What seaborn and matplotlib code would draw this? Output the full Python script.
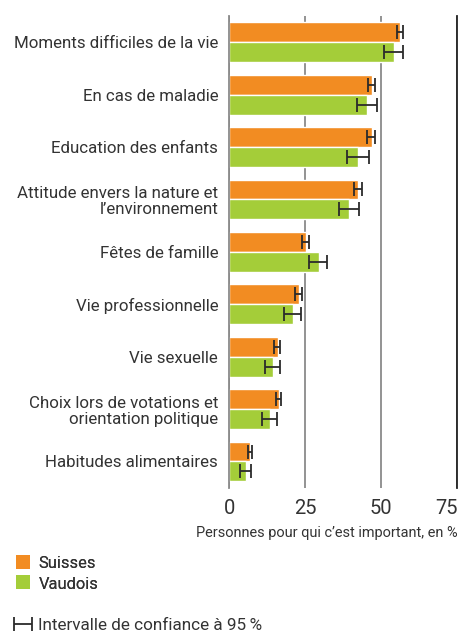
import numpy as np
import pandas as pd
import matplotlib
matplotlib.use("Agg")
import matplotlib.pyplot as plt
from matplotlib.patches import Patch
import seaborn as sns

categories = [
    "Moments difficiles de la vie",
    "En cas de maladie",
    "Education des enfants",
    "Attitude envers la nature et\nl\u2019environnement",
    "F\u00eates de famille",
    "Vie professionnelle",
    "Vie sexuelle",
    "Choix lors de votations et\norientation politique",
    "Habitudes alimentaires",
]
series = ["Suisses", "Vaudois"]

suisses = [56.0, 46.8, 46.8, 42.2, 25.1, 22.9, 15.9, 16.3, 6.7]
suisses_low = [55.1, 45.5, 45.4, 41.1, 24.0, 21.7, 14.7, 15.4, 6.3]
suisses_high = [57.3, 47.9, 47.9, 43.8, 26.2, 23.9, 16.7, 17.1, 7.6]

vaudois = [54.1, 45.2, 42.2, 39.4, 29.5, 20.8, 14.3, 13.3, 5.4]
vaudois_low = [50.9, 42.0, 38.8, 36.2, 26.2, 18.1, 11.8, 10.9, 3.6]
vaudois_high = [57.0, 48.5, 45.9, 42.6, 32.2, 23.6, 16.7, 15.6, 7.1]

x_ticks = [0, 25, 50, 75]
x_label = "Personnes pour qui c\u2019est important, en %"
ci_label = "Intervalle de confiance \u00e0 95\u2009%"

colors = {"Suisses": "#F28C22", "Vaudois": "#A4CD39"}
text_color = "#333333"

sns.set_style("white")
plt.rcParams["font.family"] = ["Roboto", "DejaVu Sans"]
plt.rcParams["text.color"] = text_color
plt.rcParams["axes.labelcolor"] = text_color
plt.rcParams["xtick.color"] = text_color
plt.rcParams["ytick.color"] = text_color

df = pd.DataFrame({
    "categorie": categories * 2,
    "groupe": ["Suisses"] * len(categories) + ["Vaudois"] * len(categories),
    "valeur": suisses + vaudois,
})

fig = plt.figure(figsize=(4.59, 6.37), dpi=100)
ax = fig.add_axes([229.3 / 459, 1 - 487.7 / 637, (457.3 - 229.3) / 459, (487.7 - 16) / 637])

bar_width = 0.76
sns.barplot(data=df, y="categorie", x="valeur", hue="groupe", order=categories,
            hue_order=series, palette=colors, width=bar_width, saturation=1,
            orient="h", ax=ax, legend=False, zorder=2)

# confidence intervals
pos = np.arange(len(categories))
offset = bar_width / 4
ci_handle = None
for vals, lo, hi, off in [(suisses, suisses_low, suisses_high, -offset),
                          (vaudois, vaudois_low, vaudois_high, offset)]:
    vals = np.array(vals)
    xerr = [vals - np.array(lo), np.array(hi) - vals]
    ci_handle = ax.errorbar(vals, pos + off, xerr=xerr, fmt="none", ecolor="#2b2b2b",
                            elinewidth=1.3, capsize=4.7, capthick=1.3, zorder=3)

ax.set_xlim(0, 75)
ax.set_ylim(len(categories) - 0.5, -0.5)
ax.set_xticks(x_ticks)
ax.set_xticklabels([str(t) for t in x_ticks], fontsize=14.5)
ax.get_xticklabels()[-1].set_horizontalalignment("right")
ax.set_ylabel("")
ax.set_xlabel(x_label, fontsize=12.5, loc="right", labelpad=6)
ax.tick_params(axis="y", length=0, pad=8, labelsize=13.5)
ax.tick_params(axis="x", length=0, pad=8)

ax.set_axisbelow(True)
ax.grid(axis="x", color="#8a8a8a", linewidth=1.3)
ax.grid(axis="y", visible=False)
for side in ["top", "bottom"]:
    ax.spines[side].set_visible(False)
ax.spines["left"].set_color("#8a8a8a")
ax.spines["left"].set_linewidth(1.3)
ax.spines["right"].set_color("#222222")
ax.spines["right"].set_linewidth(1.3)

handles = [Patch(facecolor=colors[s], edgecolor="none") for s in series]
leg1 = fig.legend(handles, series, loc="upper left", bbox_to_anchor=(16 / 459, 1 - 555 / 637),
                  frameon=False, fontsize=13.5, handlelength=0.75, handleheight=0.75,
                  handletextpad=0.45, labelspacing=0.2, borderpad=0, borderaxespad=0)
fig.add_artist(leg1)
leg2 = fig.legend([ci_handle], [ci_label], loc="upper left", bbox_to_anchor=(16 / 459, 1 - 617 / 637),
                  frameon=False, fontsize=13.5, handlelength=0.75, handletextpad=0.45,
                  borderpad=0, borderaxespad=0)

# the reference uses a condensed face: size the text so widths match
fig.canvas.draw()
renderer = fig.canvas.get_renderer()


def fit(text, target_px):
    w = text.get_window_extent(renderer).width
    text.set_fontsize(text.get_fontsize() * target_px / w)


first = ax.get_yticklabels()[0]
fit(first, 205)
for lbl in ax.get_yticklabels():
    lbl.set_fontsize(first.get_fontsize())
    lbl.set_linespacing(1.1)
fit(ax.xaxis.label, 262)
fit(leg2.get_texts()[0], 226)
fit(leg1.get_texts()[0], 57)
leg1.get_texts()[1].set_fontsize(leg1.get_texts()[0].get_fontsize())

fig.savefig("out.png", dpi=100)
